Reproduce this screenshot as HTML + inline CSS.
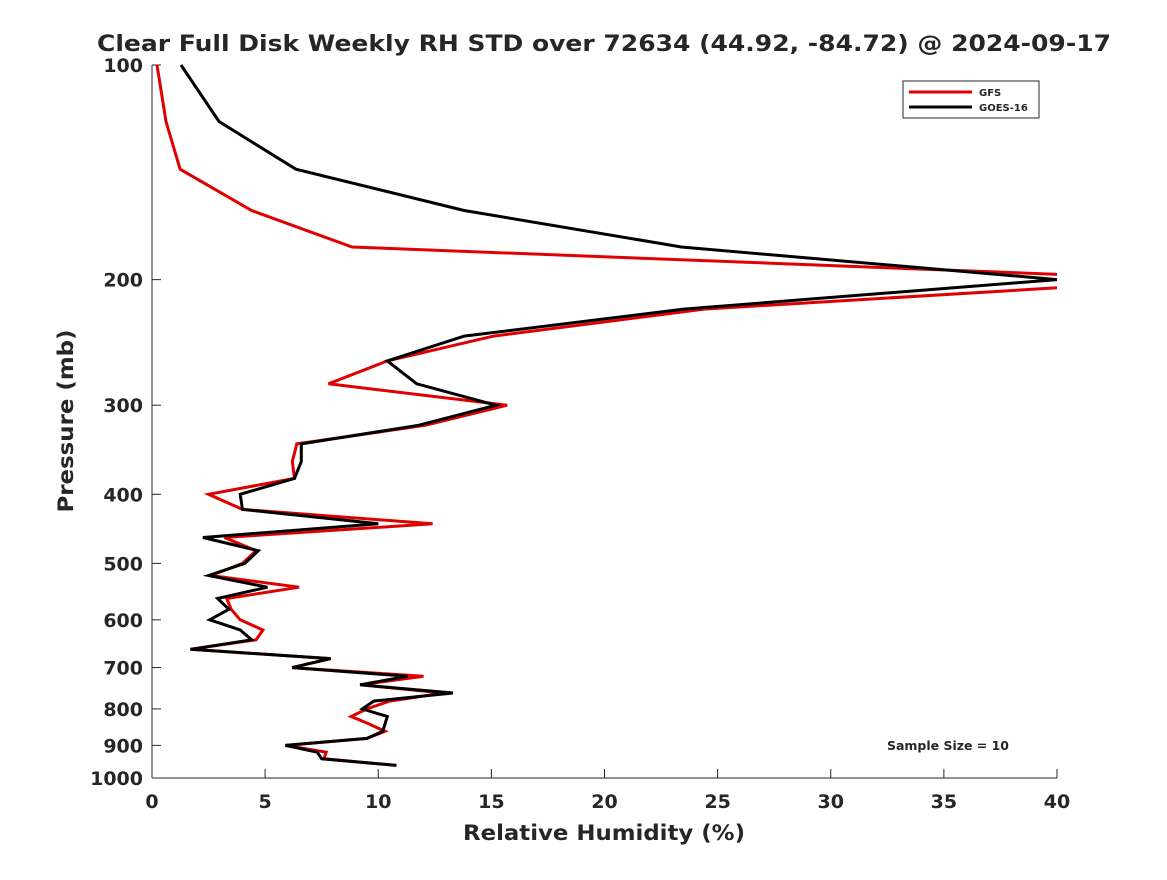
<!DOCTYPE html>
<html><head><meta charset="utf-8"><style>
body{margin:0;background:#fff;}
svg text{font-family:"DejaVu Sans","Liberation Sans",sans-serif;font-weight:bold;fill:#262626;}
</style></head><body>
<svg id="chart" width="1167" height="875" viewBox="0 0 1167 875">
<rect width="1167" height="875" fill="#fff"/>
<text x="604" y="51" font-size="22" text-anchor="middle" fill="#000" textLength="1014" lengthAdjust="spacingAndGlyphs">Clear Full Disk Weekly RH STD over 72634 (44.92, -84.72) @ 2024-09-17</text>
<defs><clipPath id="pc"><rect x="152" y="60" width="905" height="720"/></clipPath></defs>
<g id="axes"></g>
<g id="lines" clip-path="url(#pc)"></g>
<text x="604" y="840" font-size="21" text-anchor="middle" textLength="282" lengthAdjust="spacingAndGlyphs">Relative Humidity (%)</text>
<text transform="translate(73,421) rotate(-90)" font-size="21" text-anchor="middle" textLength="183" lengthAdjust="spacingAndGlyphs">Pressure (mb)</text>
<g>
<rect x="903" y="81" width="136" height="37" fill="#fff" stroke="#262626" stroke-width="1"/>
<line x1="909" y1="92" x2="972" y2="92" stroke="#e00000" stroke-width="3"/>
<text x="979" y="96" font-size="10">GFS</text>
<line x1="909" y1="107" x2="972" y2="107" stroke="#000" stroke-width="3"/>
<text x="979" y="111" font-size="10">GOES-16</text>
</g>
<text x="948" y="750" font-size="12" text-anchor="middle" fill="#000" textLength="122" lengthAdjust="spacingAndGlyphs">Sample Size = 10</text>
</svg>
<script>
const levels=[100,120,140,160,180,200,220,240,260,280,300,320,340,360,380,400,420,440,460,480,500,520,540,560,580,600,620,640,660,680,700,720,740,760,780,800,820,840,860,880,900,920,940,960];
const gfsValues=[0.22,0.62,1.24,4.4,8.84,46,24.4,15.1,10.4,7.8,15.7,12.1,6.4,6.2,6.3,2.5,4.0,12.4,3.2,4.6,4.0,2.6,6.5,3.3,3.5,3.9,4.9,4.6,1.7,7.9,6.2,12.0,9.2,12.9,10.5,9.5,8.8,9.6,10.3,9.5,5.9,7.7,7.6,10.8];
const goesValues=[1.28,2.96,6.36,13.8,23.4,40.0,23.5,13.8,10.4,11.7,15.2,11.8,6.6,6.6,6.3,3.9,4.0,10.0,2.25,4.7,4.1,2.5,5.1,2.9,3.4,2.55,3.9,4.4,1.7,7.9,6.2,11.3,9.2,13.3,9.8,9.3,10.4,10.3,10.2,9.5,5.9,7.3,7.5,10.8];
const xTicks=[0,5,10,15,20,25,30,35,40];
const yTicks=[100,200,300,400,500,600,700,800,900,1000];
const NS='http://www.w3.org/2000/svg';
const X0=152,X1=1057,Y0=65,Y1=778;
const xs=v=>X0+(v/40)*(X1-X0);
const ys=p=>Y0+Math.log10(p/100)*(Y1-Y0);
function mk(tag,attrs,parent){const e=document.createElementNS(NS,tag);for(const k in attrs)e.setAttribute(k,attrs[k]);parent.appendChild(e);return e;}
const ax=document.getElementById('axes');
const al=mk('line',{x1:X0,y1:Y0,x2:X0,y2:Y1,stroke:'#262626','stroke-width':1},ax);


const bl=mk('line',{x1:X0,y1:Y1,x2:X1,y2:Y1,stroke:'#262626','stroke-width':1},ax);


xTicks.forEach(t=>{
  const x=xs(t);
  mk('line',{x1:x,y1:Y1,x2:x,y2:Y1-9,stroke:'#262626'},ax);
  const tx=mk('text',{x:x,y:808,'font-size':19,'text-anchor':'middle'},ax);
  tx.textContent=t;
  
  
});
yTicks.forEach(t=>{
  const y=ys(t);
  mk('line',{x1:X0,y1:y,x2:X0+9,y2:y,stroke:'#262626'},ax);
  const tx=mk('text',{x:143,y:y+7,'font-size':19,'text-anchor':'end'},ax);
  tx.textContent=t;
  
  
});
const lg=document.getElementById('lines');
function series(vals,color,name){
  const pts=vals.map((v,i)=>xs(v).toFixed(1)+','+ys(levels[i]).toFixed(1)).join(' ');
  const pl=mk('polyline',{points:pts,fill:'none',stroke:color,'stroke-width':3,'stroke-linejoin':'miter'},lg);
  
  
}
series(gfsValues,'#e00000','gfs-line');
series(goesValues,'#000','goes16-line');
</script>
</body></html>
